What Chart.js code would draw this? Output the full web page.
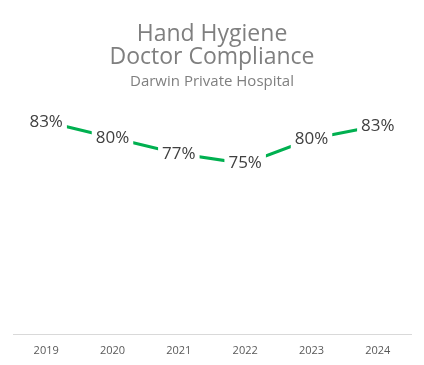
<!DOCTYPE html>
<html>
<head>
<meta charset="utf-8">
<script src="https://cdn.jsdelivr.net/npm/chart.js@4/dist/chart.umd.min.js"></script>
<style>
  html, body { margin: 0; padding: 0; background: #fff; }
  #wrap { width: 424px; height: 365px; }
</style>
</head>
<body>
<div id="wrap"><canvas id="grafico"></canvas></div>
<script>
// dados
const anos = ['2019', '2020', '2021', '2022', '2023', '2024'];
const conformidade = [83.4, 80.3, 77.2, 75.3, 80.1, 82.6];

// rótulos com fundo branco por cima da linha
const rotulos = {
  id: 'rotulos',
  afterDatasetsDraw(chart) {
    const ctx = chart.ctx;
    const meta = chart.getDatasetMeta(0);
    ctx.save();
    ctx.font = '17px "Open Sans"';
    ctx.textAlign = 'center';
    ctx.textBaseline = 'middle';
    meta.data.forEach((p, i) => {
      const txt = Math.round(conformidade[i]) + '%';
      const w = ctx.measureText(txt).width;
      ctx.fillStyle = '#fff';
      ctx.fillRect(p.x - w / 2 - 4, p.y - 12, w + 8, 24);
      ctx.fillStyle = '#404040';
      ctx.fillText(txt, p.x, p.y);
    });
    ctx.restore();
  }
};

new Chart(document.getElementById('grafico'), {
  type: 'line',
  data: {
    labels: anos,
    datasets: [{
      data: conformidade,
      borderColor: '#00B050',
      borderWidth: 3,
      pointRadius: 0,
      tension: 0
    }]
  },
  options: {
    responsive: true,
    maintainAspectRatio: false,
    animation: false,
    layout: { padding: { left: 13, right: 13, top: 0, bottom: 7 } },
    plugins: {
      legend: { display: false },
      tooltip: { enabled: false },
      title: {
        display: true,
        text: ['Hand Hygiene', 'Doctor Compliance'],
        color: '#7f7f7f',
        font: { family: 'Open Sans', size: 23, weight: 'normal', lineHeight: 1.0 },
        padding: { top: 23, bottom: 0 }
      },
      subtitle: {
        display: true,
        text: 'Darwin Private Hospital',
        color: '#7f7f7f',
        font: { family: 'Open Sans', size: 15, weight: 'normal' },
        padding: { top: 4, bottom: 10 }
      }
    },
    scales: {
      x: {
        offset: true,
        grid: { display: false },
        border: { display: true, color: '#d9d9d9', width: 1 },
        ticks: { color: '#595959', font: { family: 'Open Sans', size: 11 }, padding: 1 }
      },
      y: {
        display: false,
        min: 42.2,
        max: 87.4
      }
    }
  },
  plugins: [rotulos]
});
</script>
</body>
</html>
